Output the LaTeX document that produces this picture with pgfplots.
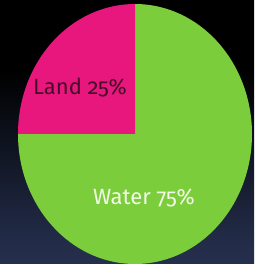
\documentclass[border=0pt]{standalone}
\usepackage{fontspec}
\setmainfont{Carlito}
\newfontfamily\labelfont{Fira Sans}[Numbers=OldStyle]
\usepackage{pgfplots}
\usepackage{pgfplotstable}
\pgfplotsset{compat=1.18}
\definecolor{pinkc}{RGB}{232,23,126}
\definecolor{greenc}{RGB}{124,205,60}
\definecolor{bgb}{RGB}{54,68,108}
\definecolor{bgm}{RGB}{34,43,70}
\definecolor{landtxt}{RGB}{70,12,42}
\definecolor{watertxt}{RGB}{242,250,230}
\pgfdeclareverticalshading{bgshade}{100bp}{color(0bp)=(bgb); color(30bp)=(bgm); color(62bp)=(black); color(100bp)=(black)}
\pgfplotstableread{
label value
Land 25
Water 75
}\piedata
\pgfplotstablegetelem{0}{value}\of\piedata
\let\landval\pgfplotsretval
\pgfplotstablegetelem{1}{value}\of\piedata
\let\waterval\pgfplotsretval
\pgfmathsetmacro{\aA}{90}
\pgfmathsetmacro{\aB}{90+3.6*\landval}
\pgfmathsetmacro{\aC}{\aB+3.6*\waterval}
\begin{document}
\begin{tikzpicture}
\begin{axis}[width=254pt,height=264pt,scale only axis,
  xmin=0,xmax=254,ymin=0,ymax=264,axis lines=none,clip=true]
\fill[shading=bgshade] (axis cs:0,0) rectangle (axis cs:254,264);
\fill[greenc] (axis cs:135,130) -- ++(\aB:117pt and 130pt) arc[start angle=\aB, end angle=\aC, x radius=117pt, y radius=130pt] -- cycle;
\fill[pinkc] (axis cs:135,130) -- ++(\aA:117pt and 130pt) arc[start angle=\aA, end angle=\aB, x radius=117pt, y radius=130pt] -- cycle;
\node[anchor=base, text=landtxt, font=\labelfont\fontsize{22}{25}\selectfont] at (axis cs:80,169) {Land 25\%};
\node[anchor=base, text=watertxt, font=\labelfont\fontsize{22}{25}\selectfont] at (axis cs:144,59) {Water 75\%};
\end{axis}
\end{tikzpicture}
\end{document}
